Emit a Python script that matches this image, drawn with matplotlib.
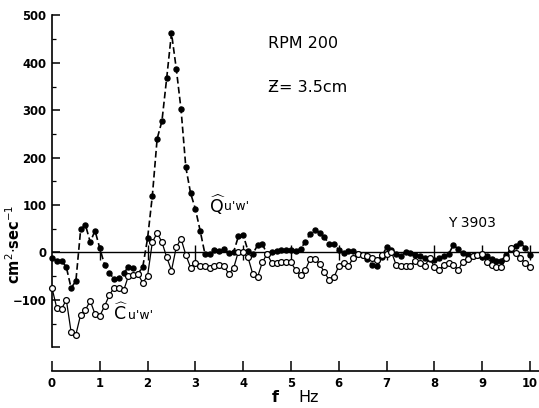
import matplotlib.pyplot as plt
import numpy as np
from matplotlib.ticker import FixedLocator, FuncFormatter

# frequency grid (Hz), one point every 0.1 Hz
freq = [round(0.1 * i, 1) for i in range(101)]

# Q u'w' (filled circles, dashed)
q_uw = [-11, -18, -17, -31, -75, -60, 49, 58, 22, 46,
        9, -26, -43, -56, -53, -43, -31, -32, -45, -30,
        30, 120, 240, 277, 368, 463, 388, 302, 180, 125,
        92, 46, -3, -4, 6, 4, 8, -1, 1, 34,
        37, 4, -3, 15, 18, -3, 2, 4, 6, 6,
        6, 4, 8, 22, 39, 48, 42, 32, 18, 17,
        6, -1, 4, 3, -3, -6, -13, -27, -29, -10,
        12, 5, -3, -8, 2, -1, -6, -8, -12, -14,
        -16, -12, -8, -3, 16, 7, -2, -6, -8, -6,
        -10, -8, -14, -17, -17, -6, 7, 14, 20, 10,
        -6]

# C u'w' (open circles, solid)
c_uw = [-75, -117, -119, -100, -168, -173, -131, -121, -102, -130,
        -134, -113, -90, -74, -74, -80, -49, -47, -46, -64,
        -49, 22, 41, 22, -10, -38, 11, 29, -5, -32,
        -22, -29, -29, -33, -29, -27, -29, -45, -33, 2,
        0, -10, -45, -52, -21, -3, -22, -22, -21, -21,
        -21, -37, -47, -37, -14, -14, -24, -42, -58, -52,
        -29, -22, -29, -12, -3, -5, -8, -12, -16, -6,
        -4, 2, -26, -28, -28, -28, -17, -23, -28, -12,
        -30, -37, -26, -22, -26, -37, -19, -14, -8, -6,
        -4, -19, -26, -30, -31, -12, 9, -1, -12, -22,
        -30]

y_major = [-200, -100, 0, 100, 200, 300, 400, 500]
y_minor = [-150, -50, 50, 150, 250, 350, 450]
x_ticks = [0, 1, 2, 3, 4, 5, 6, 7, 8, 9, 10]

fig = plt.figure(figsize=(5.39, 4.08), dpi=100)
ax = fig.add_axes([52 / 539, (408 - 371) / 408, (539 - 52) / 539, 371 / 408])
ax.set_xlim(0, 10.19)
ax.set_ylim(-250, 532.7)

# zero line with small integer marks on it
ax.axhline(0, color='black', lw=1.0, zorder=1)
ax.vlines(x_ticks[1:], -16, 16, color='black', lw=1.0, zorder=1)

ax.plot(freq, q_uw, color='black', lw=1.2, ls=(0, (4, 2)), marker='o',
        markersize=3.6, markerfacecolor='black', markeredgecolor='black',
        clip_on=False, zorder=3)
ax.plot(freq, c_uw, color='black', lw=0.9, marker='o', markersize=4.2,
        markerfacecolor='white', markeredgecolor='black', markeredgewidth=0.9,
        clip_on=False, zorder=4)

for s in ['top', 'right']:
    ax.spines[s].set_visible(False)
ax.spines['left'].set_bounds(-200, 500)
ax.spines['left'].set_linewidth(1.2)
ax.spines['bottom'].set_linewidth(1.2)

ax.yaxis.set_major_locator(FixedLocator(y_major))
ax.yaxis.set_minor_locator(FixedLocator(y_minor))
ax.yaxis.set_major_formatter(FuncFormatter(
    lambda v, p: '' if v == -200 else ('\u2212%d' % -v if v < 0 else '%d' % v)))
ax.xaxis.set_major_locator(FixedLocator(x_ticks))

ax.tick_params(axis='y', which='major', direction='in', length=6, width=1.1,
               pad=4, labelsize=8.4)
ax.tick_params(axis='y', which='minor', direction='in', length=3, width=0.9)
ax.tick_params(axis='x', which='major', direction='in', length=7, width=1.1,
               pad=4, labelsize=8.4)
for lab in ax.get_xticklabels() + ax.get_yticklabels():
    lab.set_fontweight('bold')

ax.text(4.52, 441, 'RPM 200', fontsize=11.5, va='center', ha='left')
ax.text(4.52, 348, '\u01b5= 3.5cm', fontsize=11.5, va='center', ha='left')
ax.text(8.28, 63, 'Y 3903', fontsize=10, va='center', ha='left')
ax.text(3.28, 101, r"$\widehat{\mathsf{Q}}$", fontsize=12.5, va='center', ha='left')
ax.text(3.60, 96, "u'w'", fontsize=9, va='center', ha='left')
ax.text(1.28, -127, r"$\widehat{\mathsf{C}}$", fontsize=12.5, va='center', ha='left')
ax.text(1.58, -132, "u'w'", fontsize=9, va='center', ha='left')

fig.text(14 / 539, 1 - 244 / 408, r'cm$^{2}$$\cdot$sec$^{-1}$', rotation=90,
         fontsize=10.5, fontweight='bold', va='center', ha='center')
fig.text(272 / 539, 1 - 398 / 408, 'f', fontsize=11.5, fontweight='bold',
         va='center', ha='left')
fig.text(298 / 539, 1 - 398 / 408, 'Hz', fontsize=11.5,
         va='center', ha='left')

fig.savefig('out.png', dpi=100)
